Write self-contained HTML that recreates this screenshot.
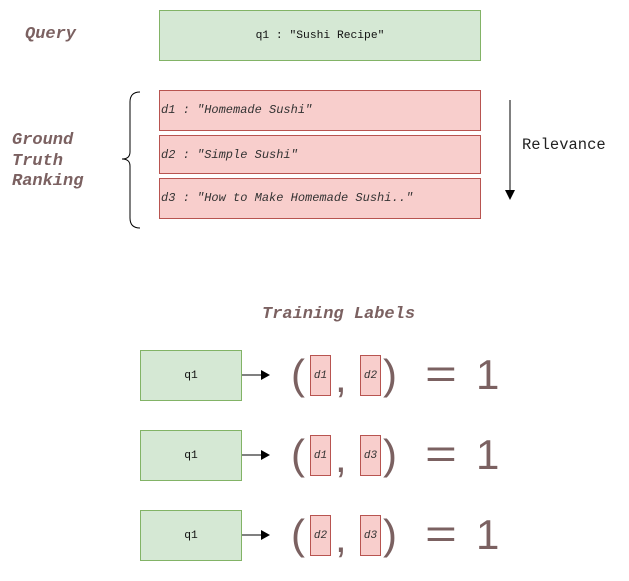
<!DOCTYPE html>
<html><head><style>
body{margin:0;width:629px;height:581px;background:#fff;position:relative;font-family:"Liberation Mono",monospace;overflow:hidden}
.a{position:absolute}
.g{background:#d5e8d4;border:1px solid #82b366;box-sizing:border-box}
.r{background:#f8cecc;border:1px solid #b85450;box-sizing:border-box}
.lab{color:#7b6161;font-weight:bold;font-style:italic;font-family:"Liberation Mono",monospace;font-size:17px;line-height:20.5px}
.d{font-size:12px;font-style:italic;color:#333;line-height:38px;padding-left:1px}
.q{font-size:11.3px;color:#111;display:flex;align-items:center;justify-content:center}
.big{color:#7b6161;font-family:"Liberation Sans",sans-serif;font-size:42px;line-height:40px}
.s{font-size:11px;font-style:italic;color:#333;display:flex;align-items:center;justify-content:center}
</style></head><body>
<div class="a lab" style="left:25px;top:25px">Query</div>
<div class="a g q" style="left:159px;top:10px;width:322px;height:51px">q1 : "Sushi Recipe"</div>
<div class="a lab" style="left:12px;top:131px">Ground<br>Truth<br>Ranking</div>
<svg class="a" style="left:0;top:0" width="629" height="581">
<path d="M140 92 Q130 92 130 102 L130 152 Q130 159 122 159 Q130 159 130 166 L130 218 Q130 228 140 228" fill="none" stroke="#000" stroke-width="1"/>
<line x1="510" y1="100" x2="510" y2="192" stroke="#000"/>
<path d="M505 190 L510 200 L515 190 Z" fill="#000"/>
<g stroke="#000"><line x1="241" y1="375" x2="262" y2="375"/><line x1="241" y1="455" x2="262" y2="455"/><line x1="241" y1="535" x2="262" y2="535"/></g>
<g fill="#000"><path d="M261 370 L270 375 L261 380Z"/><path d="M261 450 L270 455 L261 460Z"/><path d="M261 530 L270 535 L261 540Z"/></g>
</svg>
<div class="a r d" style="left:159px;top:90px;width:322px;height:41px">d1 : "Homemade Sushi"</div>
<div class="a r d" style="left:159px;top:135px;width:322px;height:39px">d2 : "Simple Sushi"</div>
<div class="a r d" style="left:159px;top:178px;width:322px;height:41px">d3 : "How to Make Homemade Sushi.."</div>
<div class="a" style="left:522px;top:136px;font-size:15.5px;color:#222">Relevance</div>
<div class="a lab" style="left:262px;top:305px">Training Labels</div>

<div class="a g q" style="left:140px;top:350px;width:102px;height:51px">q1</div>
<div class="a big" style="left:291px;top:355px">(</div>
<div class="a r s" style="left:310px;top:355px;width:21px;height:41px">d1</div>
<div class="a big" style="left:335px;top:358px">,</div>
<div class="a r s" style="left:360px;top:355px;width:21px;height:41px">d2</div>
<div class="a big" style="left:383px;top:355px">)</div>
<div class="a big" style="left:425px;top:354px;transform:scaleX(1.3);transform-origin:left">=</div>
<div class="a big" style="left:476px;top:355px">1</div>

<div class="a g q" style="left:140px;top:430px;width:102px;height:51px">q1</div>
<div class="a big" style="left:291px;top:435px">(</div>
<div class="a r s" style="left:310px;top:435px;width:21px;height:41px">d1</div>
<div class="a big" style="left:335px;top:438px">,</div>
<div class="a r s" style="left:360px;top:435px;width:21px;height:41px">d3</div>
<div class="a big" style="left:383px;top:435px">)</div>
<div class="a big" style="left:425px;top:434px;transform:scaleX(1.3);transform-origin:left">=</div>
<div class="a big" style="left:476px;top:435px">1</div>

<div class="a g q" style="left:140px;top:510px;width:102px;height:51px">q1</div>
<div class="a big" style="left:291px;top:515px">(</div>
<div class="a r s" style="left:310px;top:515px;width:21px;height:41px">d2</div>
<div class="a big" style="left:335px;top:518px">,</div>
<div class="a r s" style="left:360px;top:515px;width:21px;height:41px">d3</div>
<div class="a big" style="left:383px;top:515px">)</div>
<div class="a big" style="left:425px;top:514px;transform:scaleX(1.3);transform-origin:left">=</div>
<div class="a big" style="left:476px;top:515px">1</div>
</body></html>
